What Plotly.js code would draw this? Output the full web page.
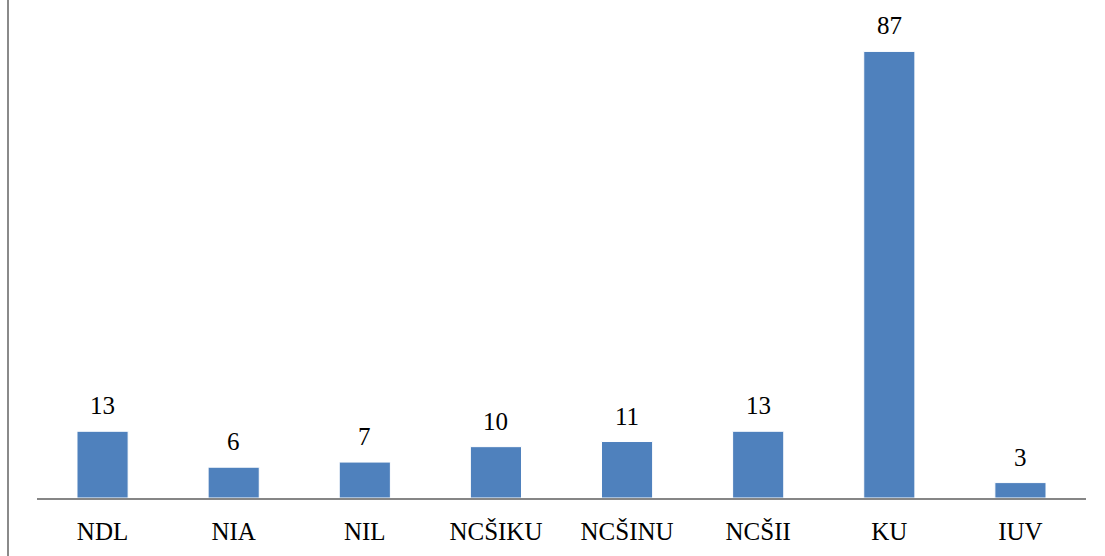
<!DOCTYPE html>
<html>
<head>
<meta charset="utf-8">
<script src="https://cdn.plot.ly/plotly-3.0.1.min.js"></script>
<style>
html,body{margin:0;padding:0;background:#fff;}
#wrap{position:relative;width:1105px;height:556px;}
#edge{position:absolute;left:7px;top:0;width:2px;height:556px;background:#8a8a8a;}
#chart{position:absolute;left:0;top:0;width:1105px;height:556px;}
</style>
</head>
<body>
<div id="wrap"><div id="chart"></div><div id="edge"></div></div>
<script>
const categories = ["NDL","NIA","NIL","NCŠIKU","NCŠINU","NCŠII","KU","IUV"];
const values = [13, 6, 7, 10, 11, 13, 87, 3];

const serif = 'Liberation Serif, Times New Roman, serif';

const trace = {
  type: 'bar',
  x: categories,
  y: values,
  marker: {color: '#4F81BD', line: {color: '#ffffff', width: 1}},
  width: 0.39,
  hoverinfo: 'none'
};

const annotations = categories.map((c, i) => ({
  x: c, y: values[i], xref: 'x', yref: 'y',
  text: String(values[i]), showarrow: false,
  yanchor: 'bottom', yshift: 10,
  font: {family: serif, size: 25, color: '#000'}
}));

const layout = {
  width: 1105, height: 556,
  margin: {l: 37, r: 19, t: 36, b: 58},
  paper_bgcolor: '#fff', plot_bgcolor: '#fff',
  showlegend: false,
  annotations: annotations,
  xaxis: {
    type: 'category',
    showline: true, linecolor: '#868686', linewidth: 1.5,
    ticks: '', showgrid: false, zeroline: false,
    ticklabelstandoff: 10,
    tickfont: {family: serif, size: 25, color: '#000'}
  },
  yaxis: {
    range: [0, 90], visible: false, showgrid: false, zeroline: false
  },
  font: {family: serif}
};

Plotly.newPlot('chart', [trace], layout, {displayModeBar: false, staticPlot: true});
</script>
</body>
</html>
